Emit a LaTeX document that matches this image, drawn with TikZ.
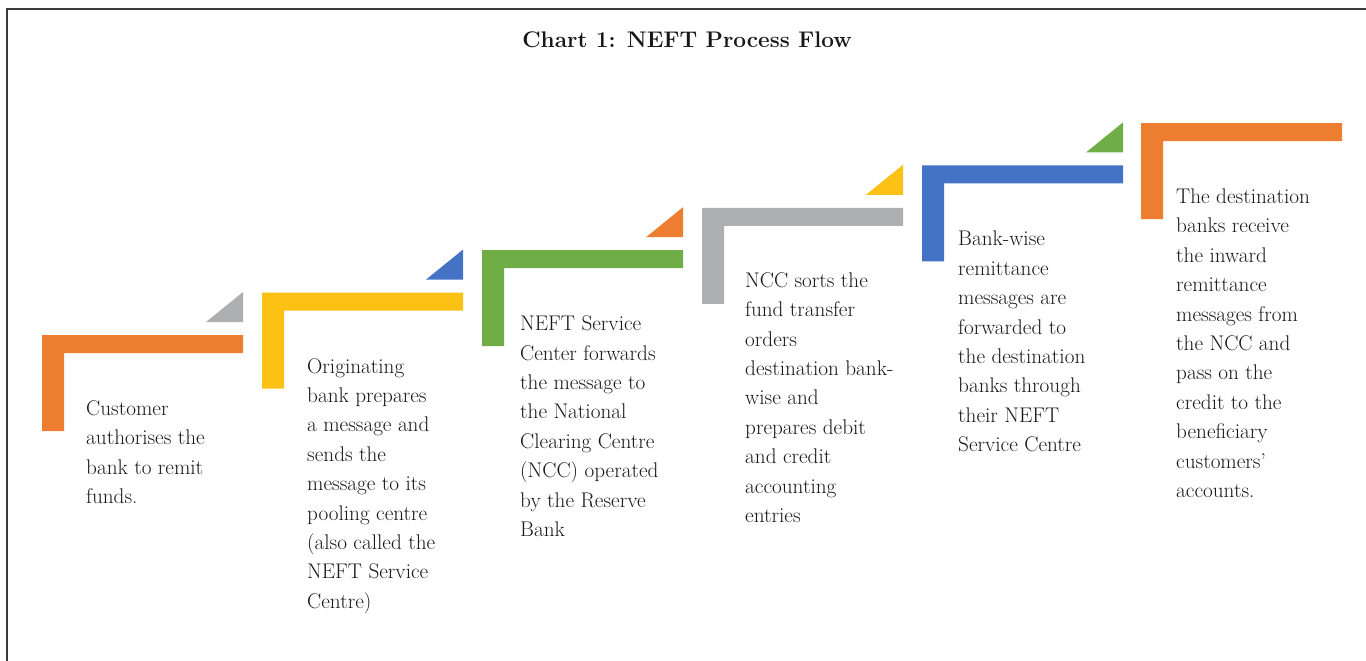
\documentclass[tikz,border=0pt]{standalone}
\usepackage{tikz}
\usetikzlibrary{calc}

\definecolor{cOrange}{HTML}{ED7D31}
\definecolor{cYellow}{HTML}{FBC115}
\definecolor{cGreen}{HTML}{70AD47}
\definecolor{cBlue}{HTML}{4472C4}
\definecolor{cGray}{HTML}{AEAFB1}
\definecolor{cText}{HTML}{1A1718}
\definecolor{cFrame}{HTML}{3A3A3A}

\begin{document}
\begin{tikzpicture}[x=1pt, y=-1pt,
    steptext/.style={anchor=north west, align=left, inner sep=0pt, text=cText,
      font=\fontsize{21.2}{29.4}\selectfont}]
    \useasboundingbox (0,0) rectangle (1366,661);
    % Frame
    \draw[cFrame, line width=2pt] (7,9) rectangle (1380,680);

    % Define step corners
    \coordinate (S1) at (42,335);
    \coordinate (S2) at (262,292.6);
    \coordinate (S3) at (482,250.2);
    \coordinate (S4) at (702,207.8);
    \coordinate (S5) at (922,165.4);
    \coordinate (S6) at (1141,123);

    % Title
    \node[text=cText, font=\fontsize{22.6}{26}\selectfont\bfseries, anchor=base] (title) at (687,48) {Chart 1: NEFT Process Flow};

    % Draw steps
    \fill[cOrange] (S1) -- ++(201,0) -- ++(0,18) -- ++(-179,0) -- ++(0,78) -- ++(-22,0) -- cycle;
    \fill[cYellow] (S2) -- ++(201,0) -- ++(0,18) -- ++(-179,0) -- ++(0,78) -- ++(-22,0) -- cycle;
    \fill[cGreen] (S3) -- ++(201,0) -- ++(0,18) -- ++(-179,0) -- ++(0,78) -- ++(-22,0) -- cycle;
    \fill[cGray] (S4) -- ++(201,0) -- ++(0,18) -- ++(-179,0) -- ++(0,78) -- ++(-22,0) -- cycle;
    \fill[cBlue] (S5) -- ++(201,0) -- ++(0,18) -- ++(-179,0) -- ++(0,78) -- ++(-22,0) -- cycle;
    \fill[cOrange] (S6) -- ++(201,0) -- ++(0,18) -- ++(-179,0) -- ++(0,78) -- ++(-22,0) -- cycle;

    % Draw corner triangles
    \fill[cGray] ($(S1)+(201,-43)$) -- ++(0,30) -- ++(-37,0) -- cycle;
    \fill[cBlue] ($(S2)+(201,-43)$) -- ++(0,30) -- ++(-37,0) -- cycle;
    \fill[cOrange] ($(S3)+(201,-43)$) -- ++(0,30) -- ++(-37,0) -- cycle;
    \fill[cYellow] ($(S4)+(201,-43)$) -- ++(0,30) -- ++(-37,0) -- cycle;
    \fill[cGreen] ($(S5)+(201,-43)$) -- ++(0,30) -- ++(-37,0) -- cycle;

    % Labels
    \node[steptext] (T1) at ($(S1)+(44,65.5)$) {Customer\\authorises the\\bank to remit\\funds.};
    \node[steptext] (T2) at ($(S2)+(45,65.5)$) {Originating\\bank prepares\\a message and\\sends the\\message to its\\pooling centre\\(also called the\\NEFT Service\\Centre)};
    \node[steptext] (T3) at ($(S3)+(38,65.5)$) {NEFT Service\\Center forwards\\the message to\\the National\\Clearing Centre\\(NCC) operated\\by the Reserve\\Bank};
    \node[steptext] (T4) at ($(S4)+(43,64.5)$) {NCC sorts the\\fund transfer\\orders\\destination bank-\\wise and\\prepares debit\\and credit\\accounting\\entries};
    \node[steptext] (T5) at ($(S5)+(36,65.5)$) {Bank-wise\\remittance\\messages are\\forwarded to\\the destination\\banks through\\their NEFT\\Service Centre};
    \node[steptext] (T6) at ($(S6)+(35,65.5)$) {The destination\\banks receive\\the inward\\remittance\\messages from\\the NCC and\\pass on the\\credit to the\\beneficiary\\customers'\\accounts.};
\end{tikzpicture}
\end{document}
